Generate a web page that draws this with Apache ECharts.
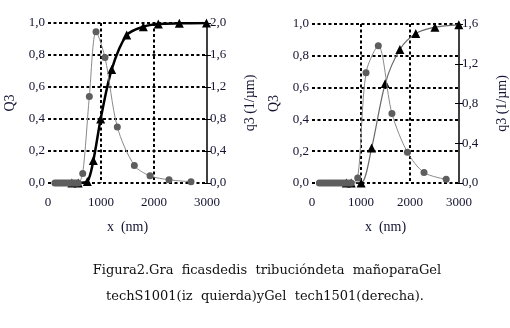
<!DOCTYPE html>
<html>
<head>
<meta charset="utf-8">
<script src="https://cdn.jsdelivr.net/npm/echarts@6/dist/echarts.min.js"></script>
<style>
  html, body { margin: 0; padding: 0; background: #fff; }
  #main { width: 510px; height: 328px; }
</style>
</head>
<body>
<div id="main"></div>
<script>
// Gel tech S1001 (izquierda)
var leftDensX = [130, 170, 210, 250, 290, 330, 370, 410, 450, 490, 530, 570, 655, 780, 906, 1075, 1308, 1629, 1925, 2283, 2698]
var leftDensY = [0, 0, 0, 0, 0, 0, 0, 0, 0, 0, 0, 0, 0.12, 1.08, 1.89, 1.57, 0.70, 0.22, 0.09, 0.04, 0.016]
var leftCumX = [450, 570, 742, 855, 994, 1202, 1485, 1798, 2081, 2478, 2990]
var leftCumY = [0, 0, 0.01, 0.14, 0.40, 0.71, 0.925, 0.977, 0.994, 0.998, 1.0]

// Gel tech 1501 (derecha)
var rightDensX = [150, 200, 250, 300, 350, 400, 450, 500, 550, 600, 650, 700, 750, 800, 933, 1103, 1353, 1631, 1947, 2286, 2738]
var rightDensY = [0, 0, 0, 0, 0, 0, 0, 0, 0, 0, 0, 0, 0, 0, 0.05, 1.11, 1.38, 0.70, 0.31, 0.105, 0.037]
var rightCumX = [700, 800, 1002, 1217, 1495, 1793, 2118, 2509, 2996]
var rightCumY = [0, 0, 0, 0.22, 0.626, 0.84, 0.94, 0.98, 0.995]

var xTicks = [0, 1000, 2000, 3000]
var leftQ3Max = 1.0
var leftq3Max = 2.0
var rightq3Max = 1.6

var caption1 = 'Figura2.Gra  ficasdedis  tribucióndeta  mañoparaGel'
var caption2 = 'techS1001(iz  quierda)yGel  tech1501(derecha).'

function pairs(xs, ys) {
  return xs.map(function (x, i) { return [x, ys[i]] })
}
function comma(v) {
  return v.toFixed(1).replace('.', ',')
}

var font = 'Liberation Serif'
var ink = '#141432'
var dotted = { color: '#000', width: 2, type: [3, 2.5] }

function xAxisOpt(gi) {
  return {
    type: 'value',
    gridIndex: gi,
    min: xTicks[0],
    max: xTicks[xTicks.length - 1],
    interval: 1000,
    name: 'x  (nm)',
    nameLocation: 'middle',
    nameGap: 37,
    nameTextStyle: { fontFamily: font, fontSize: 14, color: ink },
    axisLine: { show: false },
    axisTick: { show: false },
    axisLabel: { fontFamily: font, fontSize: 13, color: ink, margin: 13, formatter: function (v) { return String(v) } },
    splitLine: { show: true, showMinLine: false, showMaxLine: false, lineStyle: dotted }
  }
}
function leftYOpt(gi) {
  return {
    type: 'value',
    gridIndex: gi,
    position: 'left',
    min: 0,
    max: leftQ3Max,
    interval: 0.2,
    name: 'Q3',
    nameLocation: 'middle',
    nameRotate: 90,
    nameGap: 31,
    nameTextStyle: { fontFamily: font, fontSize: 14, color: ink },
    axisLine: { show: false },
    axisTick: { show: false },
    axisLabel: { fontFamily: font, fontSize: 13, color: ink, margin: 3, formatter: comma },
    splitLine: { show: true, lineStyle: dotted }
  }
}
function rightYOpt(gi, max) {
  return {
    type: 'value',
    gridIndex: gi,
    position: 'right',
    min: 0,
    max: max,
    interval: 0.4,
    name: 'q3 (1/µm)',
    nameLocation: 'middle',
    nameRotate: 90,
    nameGap: 36,
    nameTextStyle: { fontFamily: font, fontSize: 14, color: ink },
    axisLine: { show: true, lineStyle: { color: '#000', width: 1.5 } },
    axisTick: { show: true, length: 4, lineStyle: { color: '#000', width: 1 } },
    axisLabel: { fontFamily: font, fontSize: 13, color: ink, margin: 3, formatter: comma },
    splitLine: { show: false }
  }
}
// inner half of the crossing ticks on the right axis
function innerTickOpt(gi, max) {
  return {
    type: 'value',
    gridIndex: gi,
    position: 'right',
    min: 0,
    max: max,
    interval: 0.4,
    axisLine: { show: false },
    axisTick: { show: true, inside: true, length: 4, lineStyle: { color: '#000', width: 1 } },
    axisLabel: { show: false },
    splitLine: { show: false }
  }
}

var chart = echarts.init(document.getElementById('main'))
chart.setOption({
  animation: false,
  backgroundColor: '#fff',
  grid: [
    { left: 48, top: 23, width: 159, height: 160 },
    { left: 312, top: 24, width: 148, height: 159 }
  ],
  xAxis: [xAxisOpt(0), xAxisOpt(1)],
  yAxis: [leftYOpt(0), rightYOpt(0, leftq3Max), leftYOpt(1), rightYOpt(1, rightq3Max),
    innerTickOpt(0, leftq3Max), innerTickOpt(1, rightq3Max)],
  series: [
    {
      type: 'line',
      xAxisIndex: 0,
      yAxisIndex: 0,
      data: pairs(leftCumX, leftCumY),
      smooth: 0.3,
      symbol: 'triangle',
      symbolSize: 9,
      itemStyle: { color: '#000' },
      lineStyle: { color: '#000', width: 2.5 },
      z: 3
    },
    {
      type: 'line',
      xAxisIndex: 0,
      yAxisIndex: 1,
      data: pairs(leftDensX, leftDensY),
      smooth: 0.3,
      symbol: 'circle',
      symbolSize: 7,
      itemStyle: { color: '#5e5e5e' },
      lineStyle: { color: '#8a8a8a', width: 1 },
      z: 4
    },
    {
      type: 'line',
      xAxisIndex: 1,
      yAxisIndex: 2,
      data: pairs(rightCumX, rightCumY),
      smooth: 0.3,
      symbol: 'triangle',
      symbolSize: 9,
      itemStyle: { color: '#000' },
      lineStyle: { color: '#6a6a6a', width: 1.2 },
      z: 3
    },
    {
      type: 'line',
      xAxisIndex: 1,
      yAxisIndex: 3,
      data: pairs(rightDensX, rightDensY),
      smooth: 0.3,
      symbol: 'circle',
      symbolSize: 7,
      itemStyle: { color: '#5e5e5e' },
      lineStyle: { color: '#8a8a8a', width: 1 },
      z: 4
    }
  ],
  graphic: [
    {
      type: 'text',
      x: 267,
      y: 264,
      style: { text: caption1, font: '13px "DejaVu Serif"', fill: '#111', textAlign: 'center' }
    },
    {
      type: 'text',
      x: 265,
      y: 290,
      style: { text: caption2, font: '13px "DejaVu Serif"', fill: '#111', textAlign: 'center' }
    }
  ]
})
</script>
</body>
</html>
